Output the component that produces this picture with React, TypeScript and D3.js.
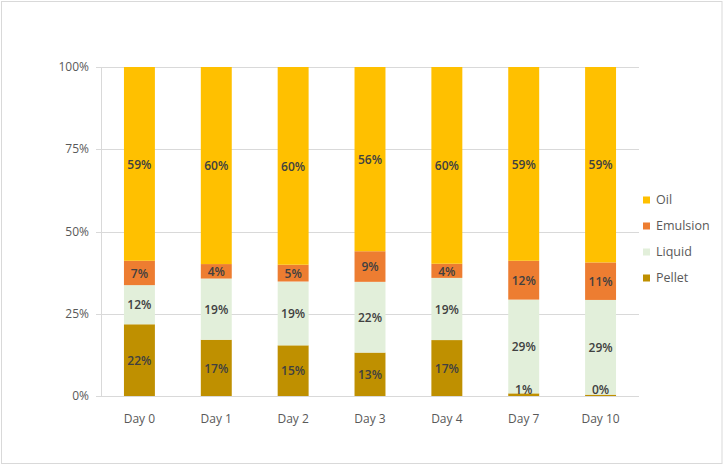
import React from "react";
import * as d3 from "d3";

const categories = ["Day 0", "Day 1", "Day 2", "Day 3", "Day 4", "Day 7", "Day 10"];
const pellet = [21.8, 17.1, 15.4, 13.2, 17.0, 0.8, 0.4];
const liquid = [11.9, 18.6, 19.4, 21.5, 18.9, 28.5, 28.8];
const emulsion = [7.4, 4.4, 5.1, 9.3, 4.3, 11.8, 11.4];
const oil = [58.9, 59.9, 60.1, 56.0, 59.8, 58.9, 59.4];
const seriesNames = ["Pellet", "Liquid", "Emulsion", "Oil"];
const seriesColors = ["#BF9000", "#E2EFDA", "#ED7D31", "#FFC000"];
const yTicks = [0, 25, 50, 75, 100];

const W = 724, H = 466;
const plotLeft = 101, plotRight = 639, plotTop = 67, plotBottom = 396;
const font = "'Open Sans', 'Noto Sans', sans-serif";

export default function App() {
  const x = d3.scaleBand<string>().domain(categories).range([plotLeft, plotRight]).paddingInner(46 / 77).paddingOuter(23 / 77);
  const y = d3.scaleLinear().domain([0, 100]).range([plotBottom, plotTop]);
  const rows = categories.map((c, i) => ({ cat: c, Pellet: pellet[i], Liquid: liquid[i], Emulsion: emulsion[i], Oil: oil[i] }));
  const stack = d3.stack<any>().keys(seriesNames)(rows);
  const legendOrder = [3, 2, 1, 0];

  return (
    <svg width={W} height={H} style={{ position: "absolute", left: 0, top: 0, background: "#fff" }}>
      <rect x={1.5} y={1.5} width={W - 3.5} height={H - 4} fill="#fff" stroke="#d9d9d9" strokeWidth={1} />
      {yTicks.map((t) => (
        <g key={t}>
          <line x1={plotLeft - 5} x2={plotRight} y1={Math.round(y(t)) + 0.5} y2={Math.round(y(t)) + 0.5} stroke="#d9d9d9" strokeWidth={1} />
          <text x={89} y={y(t)} dy="0.35em" textAnchor="end" fontFamily={font} fontSize={12} fill="#595959">{t}%</text>
        </g>
      ))}
      <line x1={plotLeft + 0.5} x2={plotLeft + 0.5} y1={plotTop} y2={plotBottom} stroke="#d9d9d9" strokeWidth={1} />
      {stack.map((s, si) => (
        <g key={s.key}>
          {s.map((d, i) => (
            <rect key={i} x={x(categories[i])!} width={x.bandwidth()} y={y(d[1])} height={y(d[0]) - y(d[1])} fill={seriesColors[si]} />
          ))}
        </g>
      ))}
      {stack.map((s, si) => (
        <g key={s.key + "l"}>
          {s.map((d, i) => {
            const v = d[1] - d[0];
            let cy = (y(d[0]) + y(d[1])) / 2;
            cy = Math.min(cy, plotBottom - 7);
            return (
              <text key={i} x={x(categories[i])! + x.bandwidth() / 2} y={cy + 0.5} dy="0.35em" textAnchor="middle" fontFamily={font} fontSize={12} fontWeight={600} fill="#404040">
                {Math.round(v)}%
              </text>
            );
          })}
        </g>
      ))}
      {categories.map((c) => (
        <text key={c} x={x(c)! + x.bandwidth() / 2} y={419} dy="0.35em" textAnchor="middle" fontFamily={font} fontSize={12} fill="#595959">{c}</text>
      ))}
      {legendOrder.map((si, k) => (
        <g key={si} transform={`translate(643, ${200 + k * 26})`}>
          <rect x={0} y={-3.5} width={7} height={7} fill={seriesColors[si]} />
          <text x={13} y={0} dy="0.35em" fontFamily={font} fontSize={12.5} fill="#595959">{seriesNames[si]}</text>
        </g>
      ))}
    </svg>
  );
}
